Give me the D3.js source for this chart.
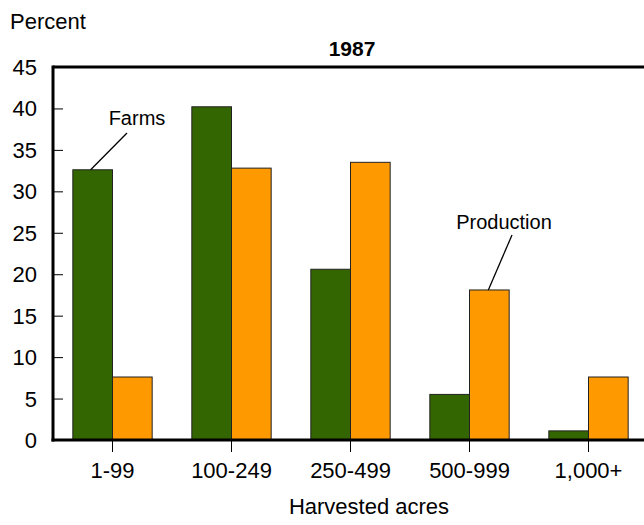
<!DOCTYPE html>
<html><head><meta charset="utf-8">
<script src="https://cdn.jsdelivr.net/npm/d3@7"></script>
<style>body{margin:0;background:#fff}svg{display:block;font-family:"Liberation Sans",Arial,sans-serif}</style>
</head><body>
<svg id="c" width="644" height="525"></svg>
<script>
const categories = ["1-99", "100-249", "250-499", "500-999", "1,000+"];
const seriesNames = ["Farms", "Production"];
const farms = [32.6, 40.2, 20.6, 5.5, 1.1];
const production = [7.6, 32.8, 33.5, 18.1, 7.6];
const yTicks = [0, 5, 10, 15, 20, 25, 30, 35, 40, 45];
const colors = ["#336600", "#FF9900"];

(function () {
const svg = d3.select("#c");
const pLeft = 53, pRight = 648, pTop = 67, pBottom = 440;
const x = d3.scaleBand().domain(categories).range([pLeft, pRight]).paddingInner(1/3).paddingOuter(1/6);
const xs = d3.scaleBand().domain(seriesNames).range([0, x.bandwidth()]);
const y = d3.scaleLinear().domain([0, 45]).range([pBottom, pTop]);

const series = [farms, production];
series.forEach((vals, si) => {
  svg.append("g").selectAll("rect").data(vals).join("rect")
    .attr("x", (d, i) => x(categories[i]) + xs(seriesNames[si]))
    .attr("y", d => y(d))
    .attr("width", xs.bandwidth())
    .attr("height", d => y(0) - y(d))
    .attr("fill", colors[si])
    .attr("stroke", "#222").attr("stroke-width", 1);
});

// y axis
const ya = svg.append("g").attr("transform", `translate(${pLeft},0)`)
  .call(d3.axisRight(y).tickValues(yTicks).tickSize(10).tickFormat(""));
ya.select(".domain").remove();
ya.selectAll("line").attr("stroke", "#000").attr("stroke-width", 1);
svg.append("g").selectAll("text").data(yTicks).join("text")
  .attr("x", 37).attr("y", d => y(d) + 8).attr("text-anchor", "end")
  .attr("font-size", 22).attr("fill", "#000").text(d => d);

// x axis ticks
const xa = svg.append("g").attr("transform", `translate(0,${pBottom})`)
  .call(d3.axisBottom(x).tickSize(12).tickSizeOuter(0).tickFormat(""));
xa.select(".domain").remove();
xa.selectAll("line").attr("stroke", "#000").attr("stroke-width", 1);
svg.append("g").selectAll("text").data(categories).join("text")
  .attr("x", d => x(d) + x.bandwidth() / 2).attr("y", 478).attr("text-anchor", "middle")
  .attr("font-size", 22).attr("fill", "#000").text(d => d);

// frame lines
svg.append("line").attr("x1", pLeft).attr("x2", 644).attr("y1", pTop).attr("y2", pTop).attr("stroke", "#000").attr("stroke-width", 3);
svg.append("line").attr("x1", pLeft).attr("x2", pLeft).attr("y1", pTop - 1.5).attr("y2", pBottom + 1.5).attr("stroke", "#000").attr("stroke-width", 3);
svg.append("line").attr("x1", pLeft - 1.5).attr("x2", 644).attr("y1", pBottom).attr("y2", pBottom).attr("stroke", "#000").attr("stroke-width", 3);

// texts
svg.append("text").attr("x", 10).attr("y", 29).attr("font-size", 22).text("Percent");
svg.append("text").attr("x", 352).attr("y", 56).attr("text-anchor", "middle").attr("font-size", 21).attr("font-weight", "bold").text("1987");
svg.append("text").attr("x", 369).attr("y", 514).attr("text-anchor", "middle").attr("font-size", 22).text("Harvested acres");

// annotations
const f0 = x(categories[0]) + xs("Farms") + xs.bandwidth() / 2;
svg.append("line").attr("x1", f0 - 2).attr("y1", y(farms[0])).attr("x2", 127).attr("y2", 133).attr("stroke", "#000").attr("stroke-width", 1.3);
svg.append("text").attr("x", 137).attr("y", 125).attr("text-anchor", "middle").attr("font-size", 20).text("Farms");
const p3 = x(categories[3]) + xs("Production") + xs.bandwidth() / 2;
svg.append("line").attr("x1", p3 - 1).attr("y1", y(production[3])).attr("x2", 512).attr("y2", 235).attr("stroke", "#000").attr("stroke-width", 1.3);
svg.append("text").attr("x", 504).attr("y", 229).attr("text-anchor", "middle").attr("font-size", 20).text("Production");
})();
</script>
</body></html>
